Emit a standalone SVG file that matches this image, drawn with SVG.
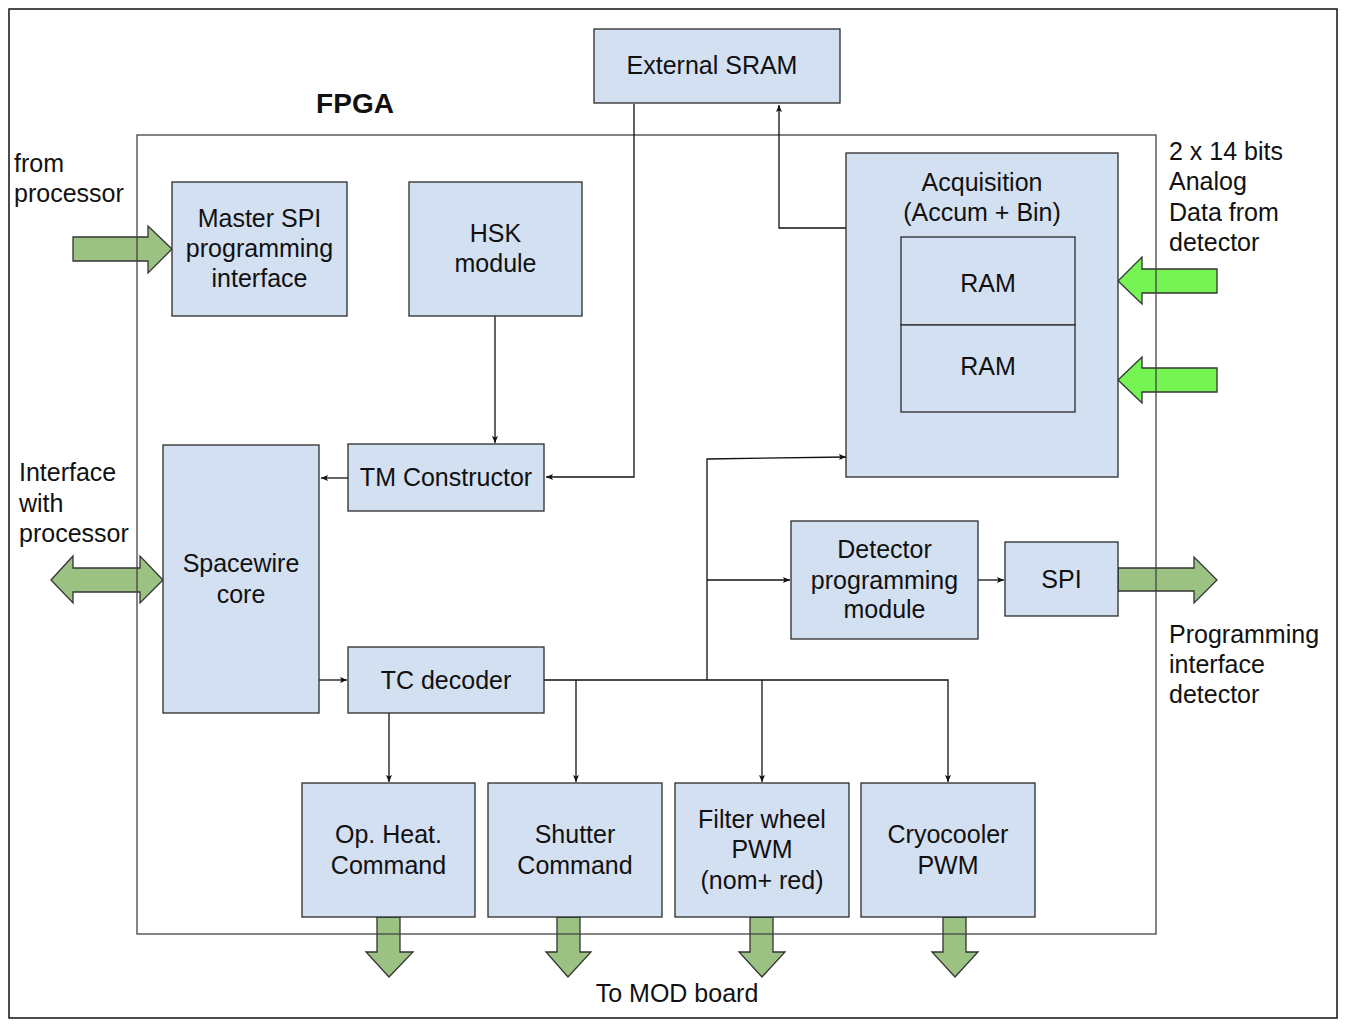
<svg xmlns="http://www.w3.org/2000/svg" width="1354" height="1030" viewBox="0 0 1354 1030">
<defs>
<style>
.box{fill:#d3e0f1;stroke:#2b2b2b;stroke-width:1.3}
.t{font-family:"Liberation Sans",Arial,sans-serif;font-size:25px;fill:#111;text-anchor:middle}
.l{font-family:"Liberation Sans",Arial,sans-serif;font-size:25px;fill:#111}
.c{fill:none;stroke:#111;stroke-width:1.3}
.ga{fill:#9bc283;stroke:#333;stroke-width:1.3;stroke-linejoin:miter}
.gb{fill:#76f453;stroke:#333;stroke-width:1.3}
</style>
<marker id="ah" markerUnits="userSpaceOnUse" markerWidth="10" markerHeight="10" refX="7" refY="3" orient="auto">
<path d="M0,0 L7,3 L0,6 L1.5,3 Z" fill="#111"/>
</marker>
</defs>
<rect x="0" y="0" width="1354" height="1030" fill="#fff"/>
<rect x="9" y="9" width="1328" height="1009" fill="none" stroke="#111" stroke-width="1.5"/>

<g id="green-arrows">
<path class="ga" d="M73,237 H148 V226 L172,249 L148,273 V261 H73 Z"/>
<path class="ga" d="M51,580 L73,556 V568 H140 V556 L163,580 L140,603 V592 H73 V603 Z"/>
<path class="ga" d="M1118,568 H1194 V557 L1217,580 L1194,603 V591 H1118 Z"/>
<path class="gb" d="M1217,269 H1142 V257 L1118,281 L1142,304 V293 H1217 Z"/>
<path class="gb" d="M1217,368 H1142 V357 L1118,380 L1142,403 V392 H1217 Z"/>
<path class="ga" d="M377,917 H400 V952 H413 L389,977 L366,952 H377 Z"/>
<path class="ga" d="M557,917 H580 V952 H591 L568,977 L546,952 H557 Z"/>
<path class="ga" d="M750,917 H773 V952 H785 L762,977 L739,952 H750 Z"/>
<path class="ga" d="M943,917 H966 V952 H978 L955,977 L932,952 H943 Z"/>
</g>

<g id="fpga">
<rect x="137" y="135" width="1019" height="799" fill="none" stroke="#444" stroke-width="1.3"/>
<text x="355" y="113" style="font-family:'Liberation Sans',Arial,sans-serif;font-size:28px;font-weight:bold;fill:#111;text-anchor:middle">FPGA</text>
</g>

<g id="connectors">
<path class="c" d="M634,104 V477 H546" marker-end="url(#ah)"/>
<path class="c" d="M846,228 H779 V105" marker-end="url(#ah)"/>
<path class="c" d="M495,316 V443" marker-end="url(#ah)"/>
<path class="c" d="M348,478 H321" marker-end="url(#ah)"/>
<path class="c" d="M319,680 H347" marker-end="url(#ah)"/>
<path class="c" d="M544,680 H948 V782" marker-end="url(#ah)"/>
<path class="c" d="M389,713 V782" marker-end="url(#ah)"/>
<path class="c" d="M576,680 V782" marker-end="url(#ah)"/>
<path class="c" d="M762,680 V782" marker-end="url(#ah)"/>
<path class="c" d="M707,680 V459 L846,457" marker-end="url(#ah)"/>
<path class="c" d="M707,580 H790" marker-end="url(#ah)"/>
<path class="c" d="M978,580 H1004" marker-end="url(#ah)"/>
</g>

<g id="external-sram"><rect class="box" x="594" y="29" width="246" height="74"/><text class="t" x="712" y="74">External SRAM</text></g>
<g id="master-spi"><rect class="box" x="172" y="182" width="175" height="134"/><text class="t" x="259.5" y="227">Master SPI</text><text class="t" x="259.5" y="257">programming</text><text class="t" x="259.5" y="287">interface</text></g>
<g id="hsk"><rect class="box" x="409" y="182" width="173" height="134"/><text class="t" x="495.5" y="242">HSK</text><text class="t" x="495.5" y="272">module</text></g>
<g id="acquisition"><rect class="box" x="846" y="153" width="272" height="324"/><text class="t" x="982" y="191">Acquisition</text><text class="t" x="982" y="221">(Accum + Bin)</text></g>
<g id="ram1"><rect class="box" x="901" y="237" width="174" height="88"/><text class="t" x="988" y="292">RAM</text></g>
<g id="ram2"><rect class="box" x="901" y="325" width="174" height="87"/><text class="t" x="988" y="375">RAM</text></g>
<g id="tm-constructor"><rect class="box" x="348" y="444" width="196" height="67"/><text class="t" x="446" y="486">TM Constructor</text></g>
<g id="spacewire"><rect class="box" x="163" y="445" width="156" height="268"/><text class="t" x="241" y="572">Spacewire</text><text class="t" x="241" y="603">core</text></g>
<g id="tc-decoder"><rect class="box" x="348" y="647" width="196" height="66"/><text class="t" x="446" y="689">TC decoder</text></g>
<g id="detector-prog"><rect class="box" x="791" y="521" width="187" height="118"/><text class="t" x="884.5" y="558">Detector</text><text class="t" x="884.5" y="589">programming</text><text class="t" x="884.5" y="618">module</text></g>
<g id="spi"><rect class="box" x="1005" y="542" width="113" height="74"/><text class="t" x="1061.5" y="588">SPI</text></g>
<g id="op-heat"><rect class="box" x="302" y="783" width="173" height="134"/><text class="t" x="388.5" y="843">Op. Heat.</text><text class="t" x="388.5" y="874">Command</text></g>
<g id="shutter"><rect class="box" x="488" y="783" width="174" height="134"/><text class="t" x="575" y="843">Shutter</text><text class="t" x="575" y="874">Command</text></g>
<g id="filter-wheel"><rect class="box" x="675" y="783" width="174" height="134"/><text class="t" x="762" y="828">Filter wheel</text><text class="t" x="762" y="858">PWM</text><text class="t" x="762" y="889">(nom+ red)</text></g>
<g id="cryocooler"><rect class="box" x="861" y="783" width="174" height="134"/><text class="t" x="948" y="843">Cryocooler</text><text class="t" x="948" y="874">PWM</text></g>

<g id="labels">
<text class="l" x="14" y="172">from</text>
<text class="l" x="14" y="202">processor</text>
<text class="l" x="19" y="481">Interface</text>
<text class="l" x="19" y="512">with</text>
<text class="l" x="19" y="542">processor</text>
<text class="l" x="1169" y="160">2 x 14 bits</text>
<text class="l" x="1169" y="190">Analog</text>
<text class="l" x="1169" y="221">Data from</text>
<text class="l" x="1169" y="251">detector</text>
<text class="l" x="1169" y="643">Programming</text>
<text class="l" x="1169" y="673">interface</text>
<text class="l" x="1169" y="703">detector</text>
<text class="t" x="677" y="1002">To MOD board</text>
</g>
</svg>
